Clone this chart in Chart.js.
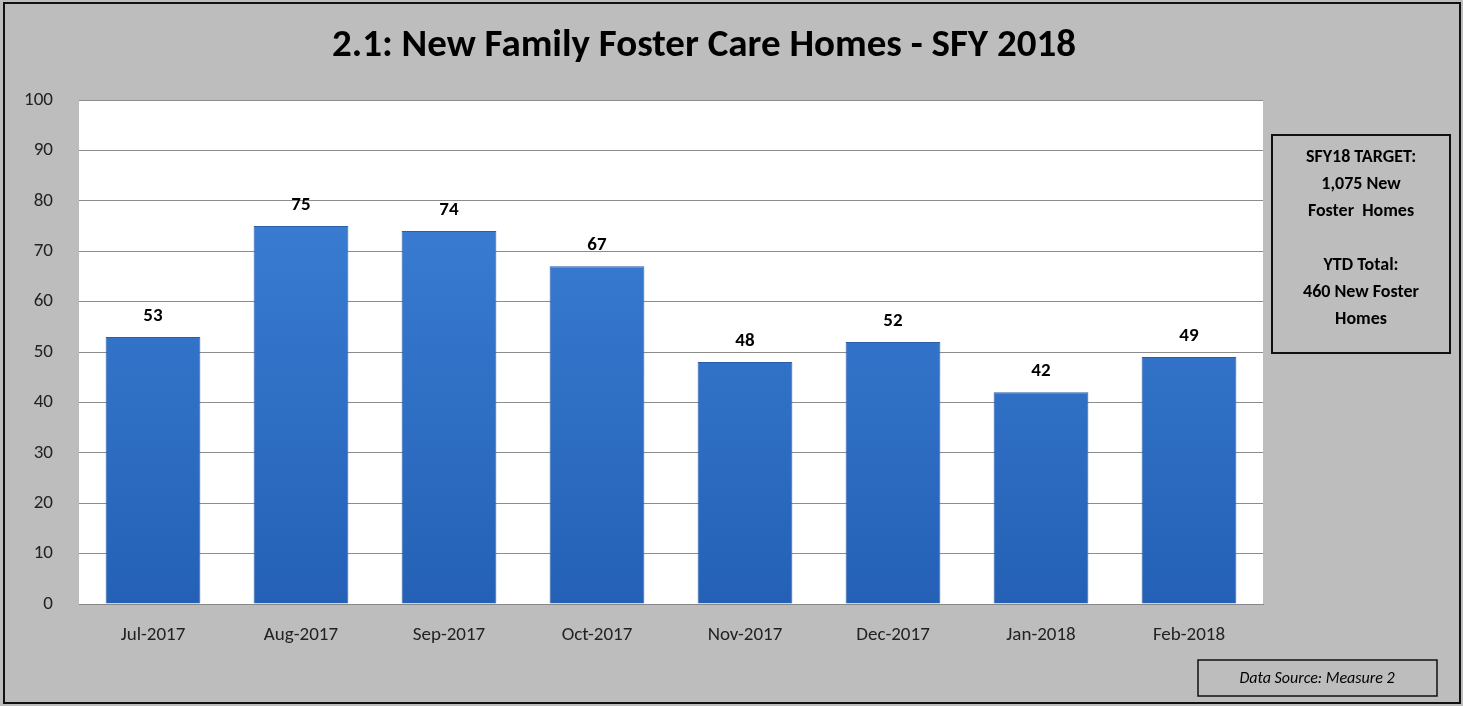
<!DOCTYPE html>
<html>
<head>
<meta charset="utf-8">
<script src="https://cdn.jsdelivr.net/npm/chart.js@4"></script>
<style>
    html, body { margin: 0; padding: 0; background: #ffffff; }
    #wrap { width: 1463px; height: 706px; }
</style>
</head>
<body>
<div id="wrap"><canvas id="homes" width="1463" height="706"></canvas></div>
<script>
// chart data
const months = ["Jul-2017", "Aug-2017", "Sep-2017", "Oct-2017", "Nov-2017", "Dec-2017", "Jan-2018", "Feb-2018"];
const newHomes = [53, 75, 74, 67, 48, 52, 42, 49];
const yTicks = [0, 10, 20, 30, 40, 50, 60, 70, 80, 90, 100];
const titleText = "2.1: New Family Foster Care Homes - SFY 2018";
const targetLines = ["SFY18 TARGET:", "1,075 New", "Foster  Homes", "", "YTD Total:", "460 New Foster", "Homes"];
const sourceText = "Data Source: Measure 2";

const font = "Carlito, 'Open Sans', 'Liberation Sans', sans-serif";

// background, title, boxes
const decorPlugin = {
    id: "decor",
    beforeDraw: (chart) => {
        const ctx = chart.ctx;
        const a = chart.chartArea;
        ctx.save();
        ctx.fillStyle = "#bdbdbd";
        ctx.fillRect(0, 0, chart.width, chart.height);
        ctx.fillStyle = "#ffffff";
        ctx.fillRect(a.left, a.top, a.right - a.left, a.bottom - a.top);
        ctx.restore();
    },
    afterDraw: (chart) => {
        const ctx = chart.ctx;
        ctx.save();
        // outer frame
        ctx.strokeStyle = "#111";
        ctx.lineWidth = 2;
        ctx.strokeRect(4, 3, 1456, 700);

        // title
        ctx.fillStyle = "#000";
        ctx.font = "bold 39px " + font;
        ctx.textAlign = "center";
        ctx.textBaseline = "middle";
        ctx.fillText(titleText, 704, 46);

        // data labels
        const meta = chart.getDatasetMeta(0);
        ctx.font = "bold 19px " + font;
        ctx.textBaseline = "middle";
        meta.data.forEach((bar, i) => {
            ctx.fillText(newHomes[i], bar.x, bar.y - 21);
        });

        // target box
        ctx.lineWidth = 2;
        ctx.strokeRect(1272, 135, 178, 218);
        ctx.font = "bold 18px " + font;
        targetLines.forEach((line, i) => {
            ctx.fillText(line, 1361, 157 + i * 27);
        });

        // data source box
        ctx.lineWidth = 1.5;
        ctx.strokeRect(1198, 660, 239, 36);
        ctx.font = "italic 16px " + font;
        ctx.fillText(sourceText, 1317, 679);
        ctx.restore();
    },
};

const ctx = document.getElementById("homes").getContext("2d");
const barGradient = ctx.createLinearGradient(0, 100, 0, 604);
barGradient.addColorStop(0, "#3f84da");
barGradient.addColorStop(1, "#2461b6");

const homesChart = new Chart(ctx, {
    type: "bar",
    data: {
        labels: months,
        datasets: [
            {
                label: "New Homes",
                data: newHomes,
                backgroundColor: barGradient,
                borderColor: "#2a5fa8",
                borderWidth: 1,
                categoryPercentage: 1,
                barPercentage: 0.64,
            },
        ],
    },
    options: {
        responsive: false,
        animation: false,
        layout: {
            padding: { left: 5, right: 200, top: 100, bottom: 10 },
        },
        scales: {
            x: {
                grid: { display: false },
                border: { color: "#888" },
                ticks: {
                    color: "#222",
                    font: { family: font, size: 19 },
                    padding: 12,
                    maxRotation: 0,
                },
                afterFit: (scale) => {
                    scale.height = 92;
                },
            },
            y: {
                min: 0,
                max: 100,
                afterBuildTicks: (scale) => {
                    scale.ticks = yTicks.map((v) => ({ value: v }));
                },
                grid: { color: "#8c8c8c", drawTicks: false },
                border: { display: false },
                ticks: {
                    color: "#222",
                    font: { family: font, size: 19 },
                    padding: 26,
                },
                afterFit: (scale) => {
                    scale.width = 74;
                },
            },
        },
        plugins: {
            legend: { display: false },
            title: { display: false },
            tooltip: { enabled: false },
        },
    },
    plugins: [decorPlugin],
});
</script>
</body>
</html>
